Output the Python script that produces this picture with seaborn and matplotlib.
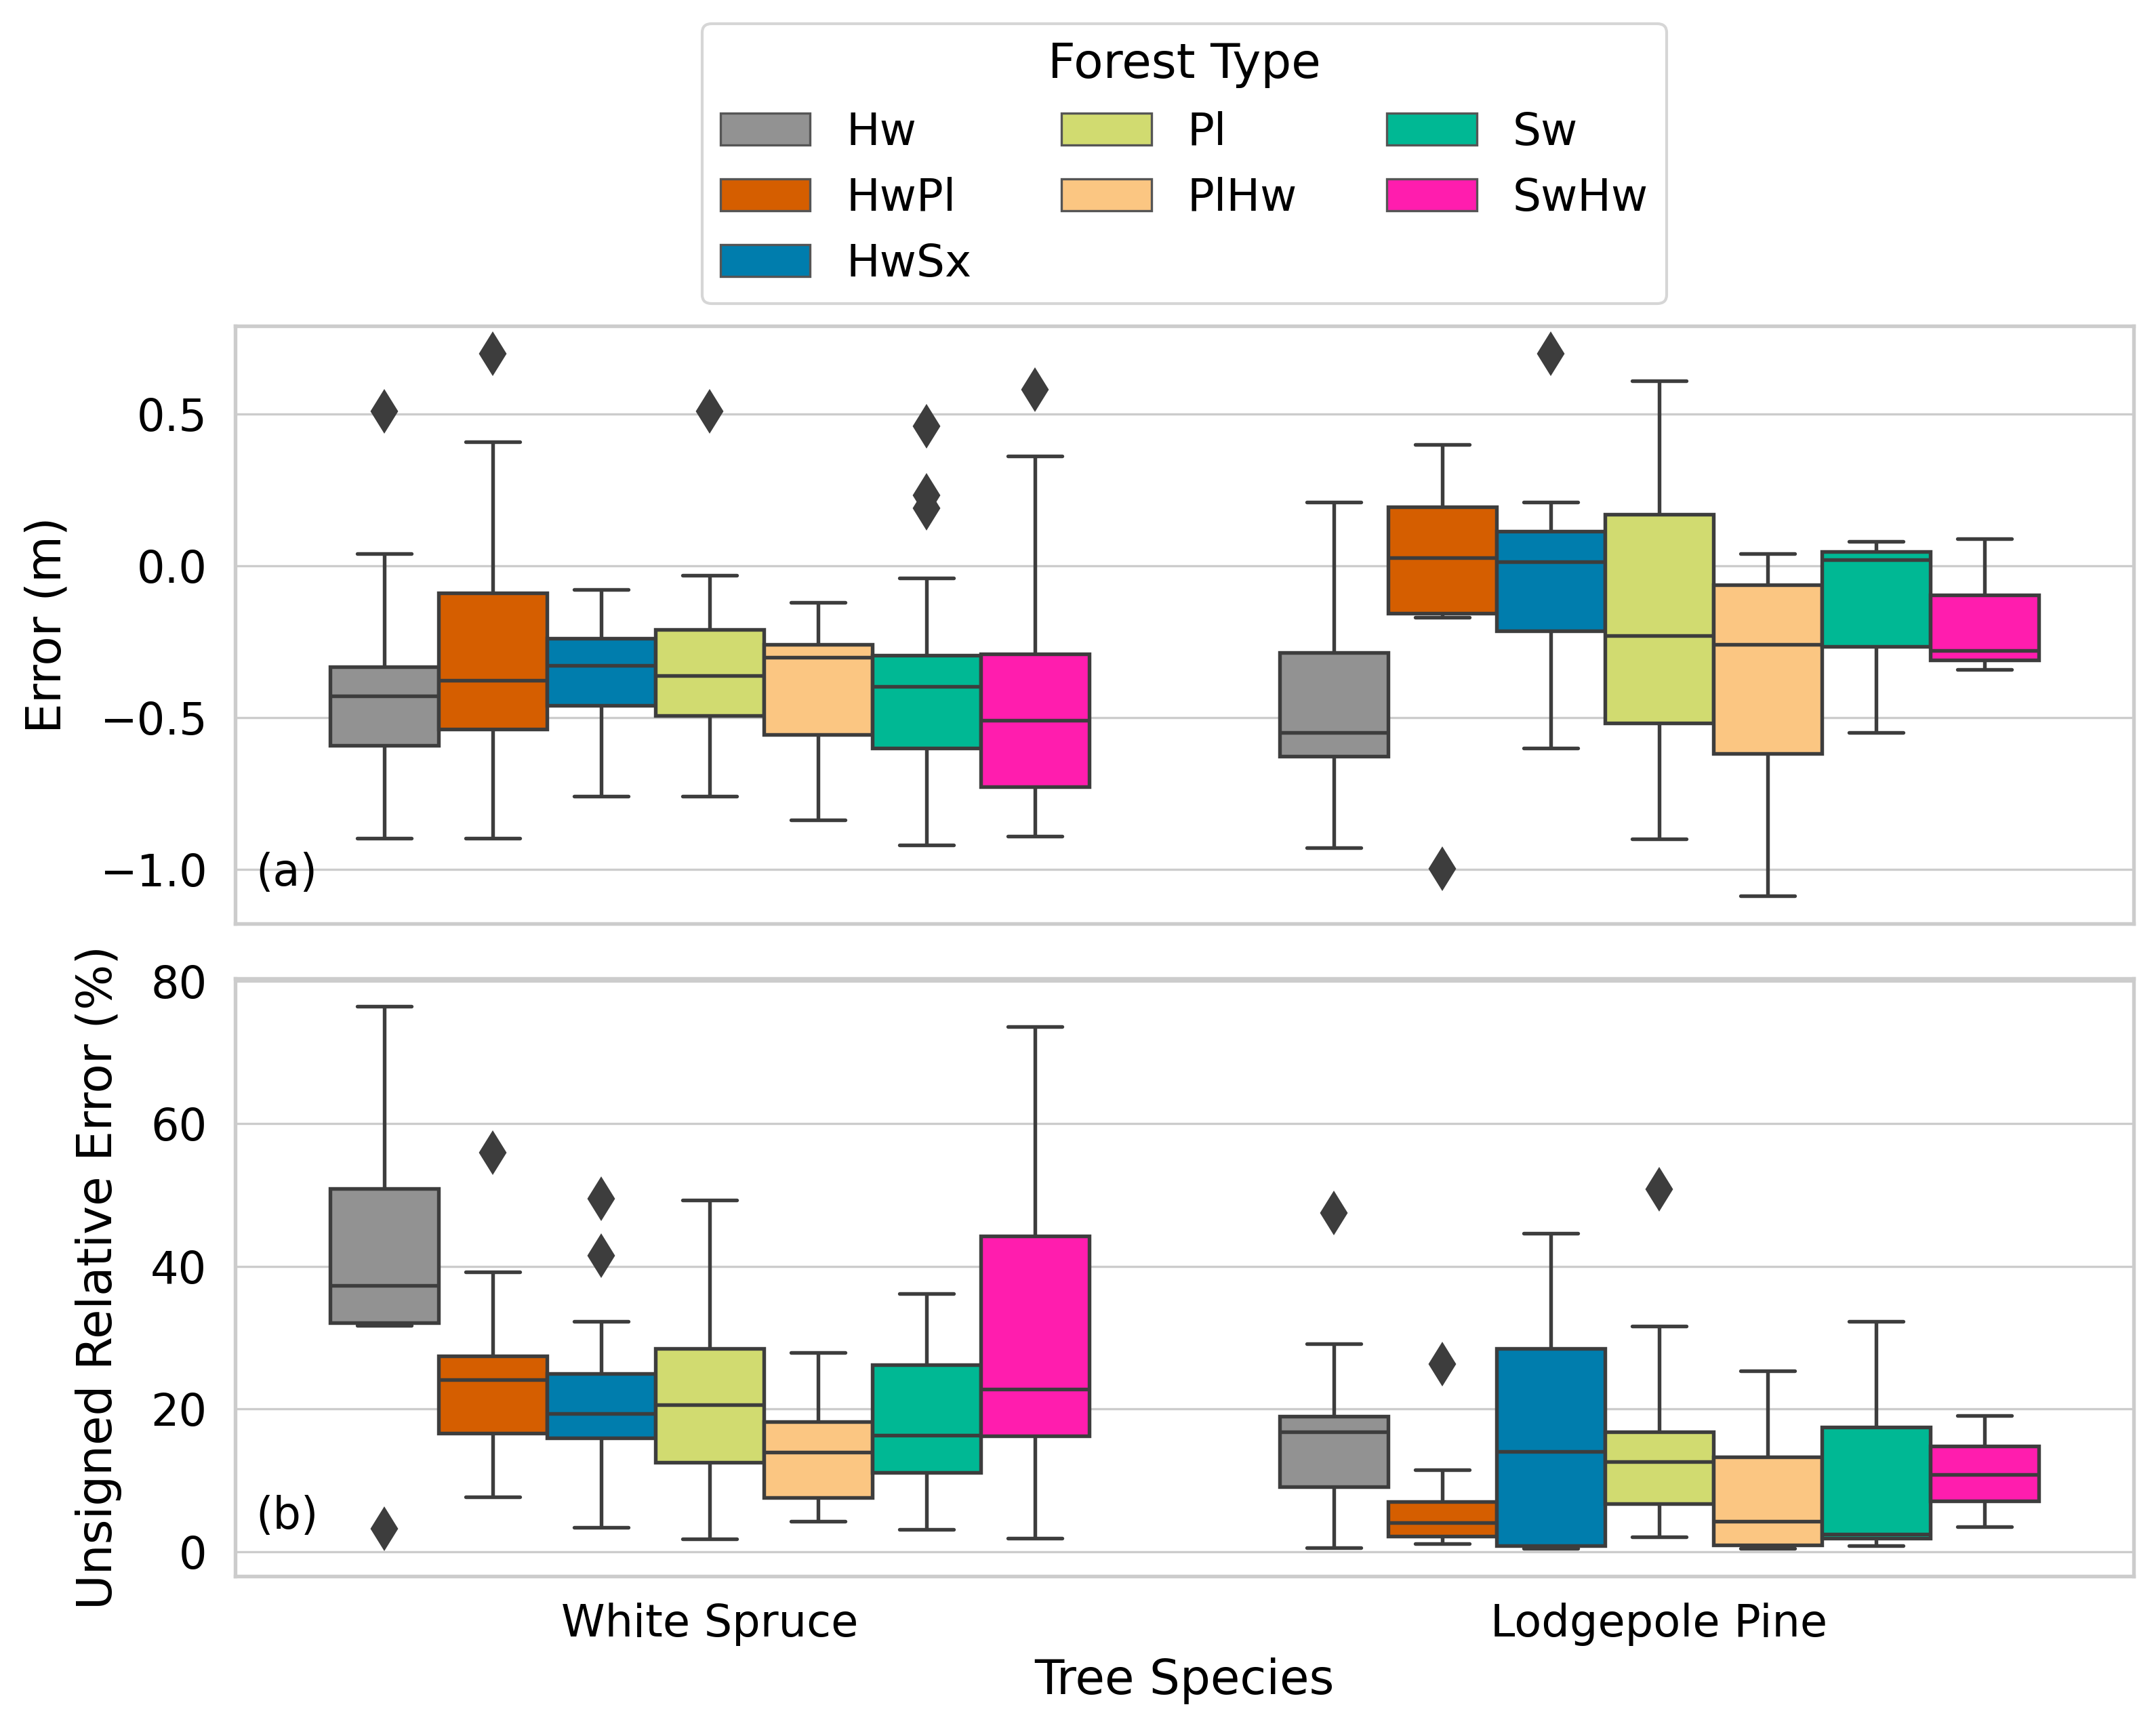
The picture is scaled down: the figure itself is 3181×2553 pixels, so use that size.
import numpy as np
import pandas as pd
import matplotlib
matplotlib.use("Agg")
import matplotlib.pyplot as plt
import seaborn as sns

# ---------------- data ----------------
species = ["White Spruce", "Lodgepole Pine"]
forest_types = ["Hw", "HwPl", "HwSx", "Pl", "PlHw", "Sw", "SwHw"]
forest_colors = ["#929292", "#D55E00", "#007DAD", "#D1DB70", "#FBC682", "#00B894", "#FF1DAE"]

# box statistics per forest type: (whisker low, Q1, median, Q3, whisker high)
err_white_spruce = [(-0.897, -0.592, -0.429, -0.333, 0.040),
                    (-0.897, -0.538, -0.378, -0.090, 0.409),
                    (-0.759, -0.459, -0.328, -0.240, -0.079),
                    (-0.759, -0.494, -0.362, -0.209, -0.031),
                    (-0.838, -0.555, -0.301, -0.260, -0.121),
                    (-0.919, -0.600, -0.397, -0.295, -0.040),
                    (-0.890, -0.728, -0.509, -0.291, 0.360)]
err_white_spruce_out = [[0.509], [0.699], [], [0.509], [], [0.459, 0.231, 0.190], [0.579]]

err_lodgepole = [(-0.928, -0.627, -0.549, -0.286, 0.209),
                 (-0.169, -0.156, 0.026, 0.194, 0.399),
                 (-0.600, -0.214, 0.013, 0.114, 0.209),
                 (-0.899, -0.519, -0.231, 0.169, 0.609),
                 (-1.088, -0.618, -0.259, -0.062, 0.040),
                 (-0.549, -0.265, 0.019, 0.047, 0.079),
                 (-0.341, -0.310, -0.279, -0.096, 0.090)]
err_lodgepole_out = [[], [-0.997], [0.699], [], [], [], []]

ure_white_spruce = [(31.7, 32.1, 37.3, 50.9, 76.5),
                    (7.7, 16.6, 24.1, 27.4, 39.2),
                    (3.4, 15.9, 19.4, 25.0, 32.3),
                    (1.8, 12.5, 20.6, 28.5, 49.3),
                    (4.2, 7.6, 13.9, 18.2, 27.9),
                    (3.1, 11.1, 16.3, 26.2, 36.2),
                    (1.9, 16.2, 22.8, 44.2, 73.6)]
ure_white_spruce_out = [[3.2], [55.9], [49.5, 41.5], [], [], [], []]

ure_lodgepole = [(0.56, 9.1, 16.8, 19.0, 29.1),
                 (1.1, 2.2, 4.1, 7.0, 11.5),
                 (0.4, 0.8, 14.0, 28.5, 44.6),
                 (2.1, 6.7, 12.6, 16.8, 31.6),
                 (0.45, 0.9, 4.2, 13.3, 25.3),
                 (0.8, 1.9, 2.45, 17.5, 32.3),
                 (3.5, 7.1, 10.8, 14.8, 19.1)]
ure_lodgepole_out = [[47.5], [26.3], [], [50.8], [], [], []]


def box_sample(stats, outs):
    """Sample whose quartiles / whiskers / outliers reproduce the read stats."""
    lo, q1, med, q3, hi = stats
    low_out = sorted(v for v in outs if v < q1)
    high_out = sorted(v for v in outs if v > q3)
    k = max(len(low_out), len(high_out)) + 1
    vals = (low_out + [lo] + [q1] * (k - 1 - len(low_out))
            + [q1] * k
            + [med] + [med] * (k - 1)
            + [q3]
            + [q3] * (k - 1 - len(high_out)) + [hi] + high_out)
    return vals


def build_frame(per_species):
    rows = []
    for sp, (stats_list, outs_list) in zip(species, per_species):
        for ft, st, ou in zip(forest_types, stats_list, outs_list):
            for v in box_sample(st, ou):
                rows.append((sp, ft, v))
    return pd.DataFrame(rows, columns=["species", "forest", "value"])


df_err = build_frame([(err_white_spruce, err_white_spruce_out),
                      (err_lodgepole, err_lodgepole_out)])
df_ure = build_frame([(ure_white_spruce, ure_white_spruce_out),
                      (ure_lodgepole, ure_lodgepole_out)])

# ---------------- style ----------------
sns.set_theme(style="whitegrid")
plt.rcParams.update({
    "font.family": ["DejaVu Sans"],
    "xtick.labelsize": 15.7,
    "ytick.labelsize": 15.7,
    "axes.labelsize": 17,
    "axes.edgecolor": "0.8",
    "axes.linewidth": 1.3,
    "grid.color": "0.8",
    "grid.linewidth": 0.8,
    "xtick.major.size": 0,
    "ytick.major.size": 0,
    "xtick.major.pad": 9.5,
    "ytick.major.pad": 10,
    "text.color": "black",
    "axes.labelcolor": "black",
    "xtick.color": "black",
    "ytick.color": "black",
})

palette = dict(zip(forest_types, forest_colors))
line_col = "#3d3d3d"

fig = plt.figure(figsize=(3181 / 300, 2553 / 300), dpi=300)
ax1 = fig.add_axes([0.1091, 0.4663, 0.8805, 0.3451])
ax2 = fig.add_axes([0.1091, 0.0891, 0.8805, 0.3451])

common = dict(x="species", y="value", hue="forest", order=species,
              hue_order=forest_types, palette=palette, saturation=1,
              linewidth=1.3, linecolor=line_col, fliersize=10,
              flierprops=dict(marker="d", markerfacecolor=line_col,
                              markeredgecolor=line_col))

sns.boxplot(data=df_err, ax=ax1, **common)
sns.boxplot(data=df_ure, ax=ax2, legend=False, **common)

ax1.set_xlabel("")
ax1.set_ylabel("Error (m)", labelpad=10)
ax1.tick_params(axis="x", labelbottom=False)
ax2.set_xlabel("Tree Species", labelpad=4)
ax2.set_ylabel("Unsigned Relative Error (%)", labelpad=10)
ax1.set_xlim(-0.5, 1.5)
ax2.set_xlim(-0.5, 1.5)

ax1.text(0.011, 0.0835, "(a)", transform=ax1.transAxes, fontsize=15.7,
         ha="left", va="center")
ax2.text(0.011, 0.099, "(b)", transform=ax2.transAxes, fontsize=15.7,
         ha="left", va="center")

fig.align_ylabels([ax1, ax2])

sns.move_legend(ax1, "lower center", bbox_to_anchor=(0.5, 1.0), ncol=3,
                title="Forest Type", frameon=True, fontsize=15.9,
                title_fontsize=17)
leg = ax1.get_legend()
for h in leg.legend_handles:
    h.set_linewidth(0.8)
    h.set_edgecolor("#555555")

fig.savefig("out.png", dpi=300)
